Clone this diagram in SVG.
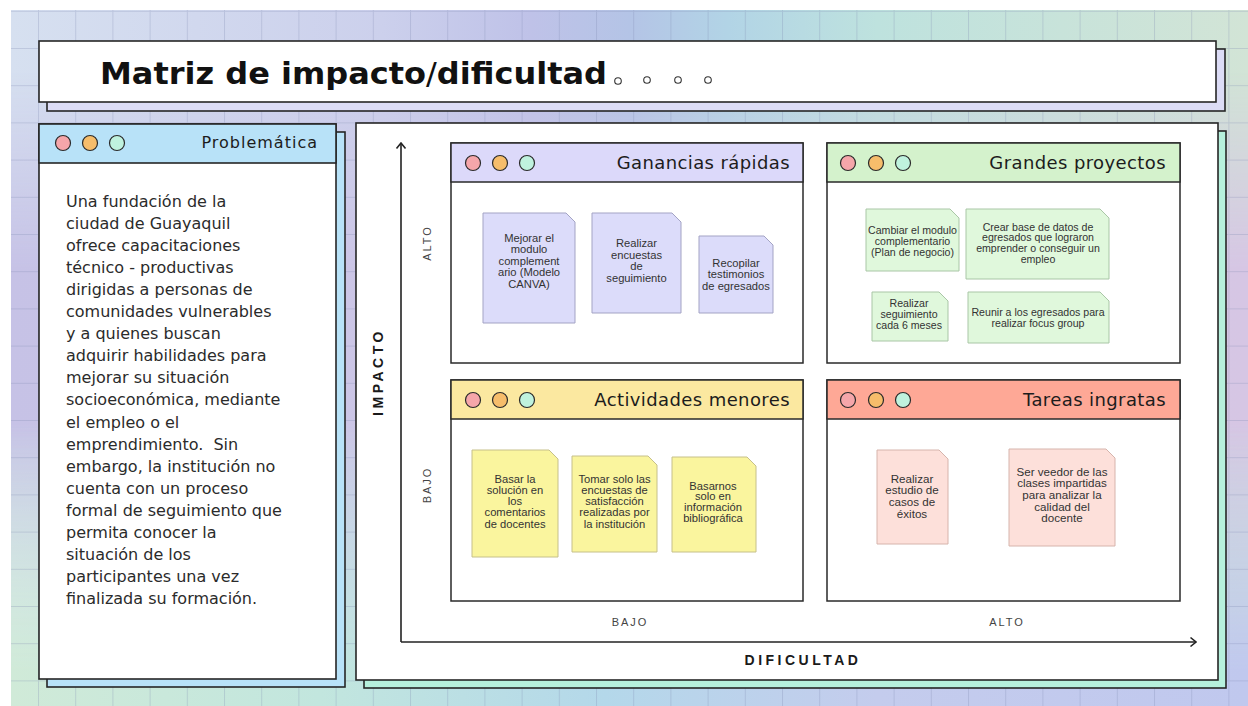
<svg xmlns="http://www.w3.org/2000/svg" width="1248" height="706" viewBox="0 0 1248 706">
<defs>
<style>
.frame{stroke:#262626;stroke-width:1.6}
.box{fill:#fff;stroke:#2a2a2a;stroke-width:1.5}
.dot{stroke:#2a2a2a;stroke-width:1.2}
.d1{fill:#f5a6aa}.d2{fill:#f6bd6b}.d3{fill:#bff2de}
.qt{font-family:"DejaVu Sans","Noto Sans",sans-serif;font-size:18px;letter-spacing:0.4px;fill:#1c1c1c;text-anchor:end}
.body{font-family:"DejaVu Sans","Noto Sans",sans-serif;font-size:16px;fill:#2b2b2b}
.note path{stroke-width:1}
.note text{font-family:"Liberation Sans",Arial,sans-serif;font-size:11.2px;fill:#333;text-anchor:middle}
.big text{font-size:11.6px}
.small text{font-size:10.6px}
.n-l path{fill:#dcdcfa;stroke:#a3a3c4}
.n-g path{fill:#e0f8dc;stroke:#a9c6a6}
.n-y path{fill:#faf59e;stroke:#c6c08a}
.n-r path{fill:#fde0da;stroke:#d6b4ac}
.axis{stroke:#222;stroke-width:1.6;fill:none}
.tick{font-family:"Liberation Sans",Arial,sans-serif;font-size:11px;letter-spacing:2px;fill:#444;text-anchor:middle}
.axt{font-family:"Liberation Sans",Arial,sans-serif;font-weight:bold;font-size:14px;letter-spacing:3.5px;fill:#1a1a1a;text-anchor:middle}
</style>
<linearGradient id="gTop" x1="0" y1="0" x2="1" y2="0">
<stop offset="0" stop-color="#d6e0f0"/>
<stop offset="0.3" stop-color="#ccd0ec"/>
<stop offset="0.42" stop-color="#bfc2e8"/>
<stop offset="0.5" stop-color="#b4c4e6"/>
<stop offset="0.58" stop-color="#b2d4e6"/>
<stop offset="0.7" stop-color="#bee2de"/>
<stop offset="1" stop-color="#d2e4d6"/>
</linearGradient>
<linearGradient id="gMid" x1="0" y1="0" x2="1" y2="0">
<stop offset="0" stop-color="#c6c2e6"/>
<stop offset="0.5" stop-color="#d0c8e6"/>
<stop offset="1" stop-color="#d6c6e4"/>
</linearGradient>
<linearGradient id="gBot" x1="0" y1="0" x2="1" y2="0">
<stop offset="0" stop-color="#d0ead8"/>
<stop offset="0.25" stop-color="#c2e6de"/>
<stop offset="0.48" stop-color="#b4d8ea"/>
<stop offset="0.7" stop-color="#c4cced"/>
<stop offset="1" stop-color="#c0c8ee"/>
</linearGradient>
<linearGradient id="fMid" x1="0" y1="0" x2="0" y2="1">
<stop offset="0.1" stop-color="#fff" stop-opacity="0"/>
<stop offset="0.38" stop-color="#fff" stop-opacity="1"/>
<stop offset="0.6" stop-color="#fff" stop-opacity="1"/>
<stop offset="0.85" stop-color="#fff" stop-opacity="0"/>
</linearGradient>
<linearGradient id="fBot" x1="0" y1="0" x2="0" y2="1">
<stop offset="0.6" stop-color="#fff" stop-opacity="0"/>
<stop offset="0.95" stop-color="#fff" stop-opacity="1"/>
</linearGradient>
<mask id="mMid" maskUnits="userSpaceOnUse" x="0" y="0" width="1248" height="706"><rect x="0" y="0" width="1248" height="706" fill="url(#fMid)"/></mask>
<mask id="mBot" maskUnits="userSpaceOnUse" x="0" y="0" width="1248" height="706"><rect x="0" y="0" width="1248" height="706" fill="url(#fBot)"/></mask>
<pattern id="grid" patternUnits="userSpaceOnUse" x="38" y="10.8" width="37.2" height="37.2">
<path d="M0.5 0V37.2M0 0.5H37.2" stroke="#7d86b0" stroke-opacity="0.28" stroke-width="1" fill="none"/>
</pattern>
<marker id="arr" viewBox="0 0 8 12" refX="7" refY="6" markerWidth="8" markerHeight="12" markerUnits="userSpaceOnUse" orient="auto">
<path d="M1.5,1.5 L7,6 L1.5,10.5" fill="none" stroke="#222" stroke-width="1.6"/>
</marker>
</defs>

<g id="background">
<rect x="0" y="0" width="1248" height="706" fill="#fff"/>
<rect x="11" y="10" width="1237" height="696" fill="url(#gTop)"/>
<rect x="11" y="10" width="1237" height="696" fill="url(#gMid)" mask="url(#mMid)"/>
<rect x="11" y="10" width="1237" height="696" fill="url(#gBot)" mask="url(#mBot)"/>
<rect x="11" y="10" width="1237" height="696" fill="url(#grid)"/>
</g>

<g id="title">
<rect x="47" y="49" width="1178" height="62" fill="#dcdcf6" class="frame"/>
<rect x="39" y="41" width="1177" height="61" fill="#fff" class="frame"/>
<text x="100" y="84" textLength="507" lengthAdjust="spacingAndGlyphs" font-family="'DejaVu Sans','Noto Sans',sans-serif" font-weight="bold" font-size="31" fill="#111">Matriz de impacto<tspan font-weight="normal">/</tspan>dificultad</text>
<g fill="#fff" stroke="#333" stroke-width="1.1">
<circle cx="618" cy="81" r="3.3"/>
<circle cx="647" cy="80" r="3.3"/>
<circle cx="678" cy="80" r="3.3"/>
<circle cx="708" cy="80" r="3.3"/>
</g>
</g>

<g id="problematica">
<rect x="47" y="132" width="298" height="555" fill="#b8e2f8" class="frame"/>
<rect x="39" y="124" width="297" height="555" fill="#fff" class="frame"/>
<rect x="39" y="124" width="297" height="39" fill="#b8e2f8" class="frame"/>
<circle cx="63" cy="143" r="7.5" class="dot d1"/>
<circle cx="90" cy="143" r="7.5" class="dot d2"/>
<circle cx="117" cy="143" r="7.5" class="dot d3"/>
<text x="318" y="148" font-family="'DejaVu Sans','Noto Sans',sans-serif" font-size="16" letter-spacing="1" fill="#1c1c1c" text-anchor="end">Problemática</text>
<text class="body" xml:space="preserve">
<tspan x="66" y="207">Una fundación de la</tspan>
<tspan x="66" y="229.05">ciudad de Guayaquil</tspan>
<tspan x="66" y="251.1">ofrece capacitaciones</tspan>
<tspan x="66" y="273.15">técnico - productivas</tspan>
<tspan x="66" y="295.2">dirigidas a personas de</tspan>
<tspan x="66" y="317.25">comunidades vulnerables</tspan>
<tspan x="66" y="339.3">y a quienes buscan</tspan>
<tspan x="66" y="361.35">adquirir habilidades para</tspan>
<tspan x="66" y="383.4">mejorar su situación</tspan>
<tspan x="66" y="405.45">socioeconómica, mediante</tspan>
<tspan x="66" y="427.5">el empleo o el</tspan>
<tspan x="66" y="449.55">emprendimiento.  Sin</tspan>
<tspan x="66" y="471.6">embargo, la institución no</tspan>
<tspan x="66" y="493.65">cuenta con un proceso</tspan>
<tspan x="66" y="515.7">formal de seguimiento que</tspan>
<tspan x="66" y="537.75">permita conocer la</tspan>
<tspan x="66" y="559.8">situación de los</tspan>
<tspan x="66" y="581.85">participantes una vez</tspan>
<tspan x="66" y="603.9">finalizada su formación.</tspan>
</text>
</g>

<g id="matrix-panel">
<rect x="364" y="131" width="862" height="557" fill="#b6f0dc" class="frame"/>
<rect x="356" y="123" width="862" height="557" fill="#fff" class="frame"/>
</g>

<g id="connectors">
<line x1="401" y1="642" x2="401" y2="143" class="axis" marker-end="url(#arr)"/>
<line x1="401" y1="642" x2="1196" y2="642" class="axis" marker-end="url(#arr)"/>
</g>

<g id="axis-labels">
<text class="axt" transform="translate(383,372) rotate(-90)">IMPACTO</text>
<text class="axt" x="803" y="665">DIFICULTAD</text>
<text class="tick" transform="translate(431,243) rotate(-90)">ALTO</text>
<text class="tick" transform="translate(431,485) rotate(-90)">BAJO</text>
<text class="tick" x="630" y="626">BAJO</text>
<text class="tick" x="1007" y="626">ALTO</text>
</g>

<g id="q-ganancias">
<rect x="451" y="143" width="352" height="220" class="box"/>
<rect x="451" y="143" width="352" height="39" class="box" style="fill:#dcd9fa"/>
<circle cx="473" cy="163" r="7.5" class="dot d1"/>
<circle cx="500" cy="163" r="7.5" class="dot d2"/>
<circle cx="527" cy="163" r="7.5" class="dot d3"/>
<text class="qt" x="790" y="169">Ganancias rápidas</text>
<g id="note-g1" class="note n-l">
<path d="M483,213 H566 L575,222 V323 H483 Z"/>
<text><tspan x="529" y="242">Mejorar el</tspan><tspan x="529" y="253.4">modulo</tspan><tspan x="529" y="264.8">complement</tspan><tspan x="529" y="276.2">ario (Modelo</tspan><tspan x="529" y="287.6">CANVA)</tspan></text>
</g>
<g id="note-g2" class="note n-l">
<path d="M592,213 H672 L681,222 V313 H592 Z"/>
<text><tspan x="636.5" y="247">Realizar</tspan><tspan x="636.5" y="258.6">encuestas</tspan><tspan x="636.5" y="270.2">de</tspan><tspan x="636.5" y="281.8">seguimiento</tspan></text>
</g>
<g id="note-g3" class="note n-l">
<path d="M699,236 H764 L773,245 V313 H699 Z"/>
<text><tspan x="736" y="267">Recopilar</tspan><tspan x="736" y="278.4">testimonios</tspan><tspan x="736" y="289.8">de egresados</tspan></text>
</g>
</g>

<g id="q-grandes">
<rect x="827" y="143" width="353" height="220" class="box"/>
<rect x="827" y="143" width="353" height="39" class="box" style="fill:#d4f2cc"/>
<circle cx="848" cy="163" r="7.5" class="dot d1"/>
<circle cx="876" cy="163" r="7.5" class="dot d2"/>
<circle cx="903" cy="163" r="7.5" class="dot d3"/>
<text class="qt" x="1166" y="169">Grandes proyectos</text>
<g id="note-p1" class="note n-g small">
<path d="M866,209 H950 L959,218 V271 H866 Z"/>
<text><tspan x="912.5" y="233.5">Cambiar el modulo</tspan><tspan x="912.5" y="244.5">complementario</tspan><tspan x="912.5" y="255.5">(Plan de negocio)</tspan></text>
</g>
<g id="note-p2" class="note n-g small">
<path d="M966,209 H1100 L1109,218 V279 H966 Z"/>
<text><tspan x="1038" y="230.5">Crear base de datos de</tspan><tspan x="1038" y="241.2">egresados que lograron</tspan><tspan x="1038" y="251.9">emprender o conseguir un</tspan><tspan x="1038" y="262.6">empleo</tspan></text>
</g>
<g id="note-p3" class="note n-g small">
<path d="M872,292 H939 L948,301 V341 H872 Z"/>
<text><tspan x="909" y="306.5">Realizar</tspan><tspan x="909" y="317.5">seguimiento</tspan><tspan x="909" y="328.5">cada 6 meses</tspan></text>
</g>
<g id="note-p4" class="note n-g small">
<path d="M968,292 H1100 L1109,301 V343 H968 Z"/>
<text><tspan x="1038" y="315.5">Reunir a los egresados para</tspan><tspan x="1038" y="326.5">realizar focus group</tspan></text>
</g>
</g>

<g id="q-actividades">
<rect x="451" y="380" width="352" height="221" class="box"/>
<rect x="451" y="380" width="352" height="39" class="box" style="fill:#fbe8a0"/>
<circle cx="473" cy="400" r="7.5" class="dot d1"/>
<circle cx="500" cy="400" r="7.5" class="dot d2"/>
<circle cx="527" cy="400" r="7.5" class="dot d3"/>
<text class="qt" x="790" y="406">Actividades menores</text>
<g id="note-a1" class="note n-y">
<path d="M472,450 H549 L558,459 V557 H472 Z"/>
<text><tspan x="515" y="482.5">Basar la</tspan><tspan x="515" y="493.8">solución en</tspan><tspan x="515" y="505.1">los</tspan><tspan x="515" y="516.4">comentarios</tspan><tspan x="515" y="527.7">de docentes</tspan></text>
</g>
<g id="note-a2" class="note n-y">
<path d="M572,456 H648 L657,465 V552 H572 Z"/>
<text><tspan x="614.5" y="482.5">Tomar solo las</tspan><tspan x="614.5" y="493.8">encuestas de</tspan><tspan x="614.5" y="505.1">satisfacción</tspan><tspan x="614.5" y="516.4">realizadas por</tspan><tspan x="614.5" y="527.7">la institución</tspan></text>
</g>
<g id="note-a3" class="note n-y">
<path d="M672,457 H747 L756,466 V552 H672 Z"/>
<text><tspan x="713" y="489.5">Basarnos</tspan><tspan x="713" y="500.3">solo en</tspan><tspan x="713" y="511.1">información</tspan><tspan x="713" y="521.9">bibliográfica</tspan></text>
</g>
</g>

<g id="q-tareas">
<rect x="827" y="380" width="353" height="221" class="box"/>
<rect x="827" y="380" width="353" height="39" class="box" style="fill:#fea896"/>
<circle cx="848" cy="400" r="7.5" class="dot d1"/>
<circle cx="876" cy="400" r="7.5" class="dot d2"/>
<circle cx="903" cy="400" r="7.5" class="dot d3"/>
<text class="qt" x="1166" y="406">Tareas ingratas</text>
<g id="note-t1" class="note n-r big">
<path d="M877,450 H939 L948,459 V544 H877 Z"/>
<text><tspan x="912" y="482.5">Realizar</tspan><tspan x="912" y="494.2">estudio de</tspan><tspan x="912" y="505.9">casos de</tspan><tspan x="912" y="517.6">éxitos</tspan></text>
</g>
<g id="note-t2" class="note n-r big">
<path d="M1009,449 H1106 L1115,458 V546 H1009 Z"/>
<text><tspan x="1062" y="475.5">Ser veedor de las</tspan><tspan x="1062" y="487.2">clases impartidas</tspan><tspan x="1062" y="498.9">para analizar la</tspan><tspan x="1062" y="510.6">calidad del</tspan><tspan x="1062" y="522.3">docente</tspan></text>
</g>
</g>
</svg>
